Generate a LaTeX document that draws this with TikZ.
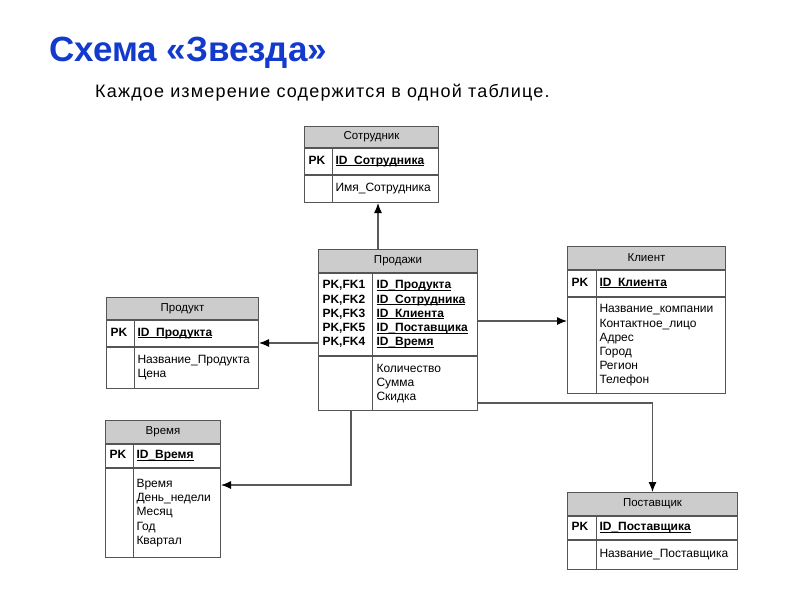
\documentclass[tikz,border=0pt]{standalone}
\usepackage{fontspec}
\setmainfont{Liberation Sans}
\usetikzlibrary{arrows.meta}

\definecolor{titleblue}{RGB}{18,58,204}
\definecolor{hdrgray}{RGB}{204,204,204}
\definecolor{boxline}{RGB}{85,85,85}

\newcommand{\idf}[1]{{\bfseries\setbox0\hbox{#1}\rlap{\rule[-1.8pt]{\wd0}{0.7pt}}\box0}}
\newcommand{\rows}[2]{\begin{tabular}{@{}p{#1}@{}l@{}}#2\end{tabular}}

\begin{document}
\begin{tikzpicture}[
  x=1pt, y=-1pt,
  tbl/.style={draw=boxline, line width=1pt, inner xsep=4pt, inner ysep=0pt,
    anchor=north, align=left, font=\fontsize{12}{14.2}\selectfont},
  hdr/.style={tbl, fill=hdrgray, align=center, anchor=north west,
    font=\fontsize{11.5}{14}\selectfont},
  divider/.style={draw=boxline, line width=1pt},
  link/.style={draw=gray!70!black, line width=1.2pt,
    -{Latex[length=10pt,width=8pt,color=black]}},
  ]
  \useasboundingbox (0,0) rectangle (800,600);

  %% Title
  \node[anchor=base west, inner sep=0pt, text=titleblue,
        font=\fontsize{35}{40}\selectfont\bfseries] (title) at (49,61) {Схема «Звезда»};
  \node[anchor=base west, inner sep=0pt,
        font=\fontsize{18}{20}\selectfont\addfontfeatures{LetterSpace=6.5}] (subtitle) at (95,97)
        {Каждое измерение содержится в одной таблице.};

  % Сотрудник
  \node[hdr, text width=126pt, minimum height=21pt] (sotr-h) at (304,126) {Сотрудник};
  \node[tbl, text width=126pt, minimum height=26pt] (sotr-pk) at (sotr-h.south)
    {\rows{27pt}{\textbf{PK} & \idf{ID\_Сотрудника}}};
  \node[tbl, text width=126pt, minimum height=27pt] (sotr-body) at (sotr-pk.south)
    {\rows{27pt}{& Имя\_Сотрудника}};
  \draw[divider] ([xshift=28pt]sotr-h.south west) -- ([xshift=28pt]sotr-body.south west);

  % Продажи (fact table)
  \node[hdr, text width=151pt, minimum height=23pt] (prod-h) at (318,249) {Продажи};
  \node[tbl, text width=151pt, minimum height=82pt] (prod-pk) at (prod-h.south)
    {\rows{54pt}{\textbf{PK,FK1} & \idf{ID\_Продукта}\\
                 \textbf{PK,FK2} & \idf{ID\_Сотрудника}\\
                 \textbf{PK,FK3} & \idf{ID\_Клиента}\\
                 \textbf{PK,FK5} & \idf{ID\_Поставщика}\\
                 \textbf{PK,FK4} & \idf{ID\_Время}}};
  \node[tbl, text width=151pt, minimum height=54pt] (prod-body) at (prod-pk.south)
    {\rows{54pt}{& Количество\\ & Сумма\\ & Скидка}};
  \draw[divider] ([xshift=54pt]prod-h.south west) -- ([xshift=54pt]prod-body.south west);

  % Продукт
  \node[hdr, text width=144pt, minimum height=22pt] (produkt-h) at (106,297) {Продукт};
  \node[tbl, text width=144pt, minimum height=26pt] (produkt-pk) at (produkt-h.south)
    {\rows{27pt}{\textbf{PK} & \idf{ID\_Продукта}}};
  \node[tbl, text width=144pt, minimum height=41pt] (produkt-body) at (produkt-pk.south)
    {\rows{27pt}{& Название\_Продукта\\ & Цена}};
  \draw[divider] ([xshift=28pt]produkt-h.south west) -- ([xshift=28pt]produkt-body.south west);

  % Клиент
  \node[hdr, text width=150pt, minimum height=23pt] (klient-h) at (567,246) {Клиент};
  \node[tbl, text width=150pt, minimum height=26pt] (klient-pk) at (klient-h.south)
    {\rows{28pt}{\textbf{PK} & \idf{ID\_Клиента}}};
  \node[tbl, text width=150pt, minimum height=96pt] (klient-body) at (klient-pk.south)
    {\rows{28pt}{& Название\_компании\\ & Контактное\_лицо\\ & Адрес\\
                 & Город\\ & Регион\\ & Телефон}};
  \draw[divider] ([xshift=29pt]klient-h.south west) -- ([xshift=29pt]klient-body.south west);

  % Время
  \node[hdr, text width=107pt, minimum height=23pt] (vremya-h) at (105,420) {Время};
  \node[tbl, text width=107pt, minimum height=23pt] (vremya-pk) at (vremya-h.south)
    {\rows{27pt}{\textbf{PK} & \idf{ID\_Время}}};
  \node[tbl, text width=107pt, minimum height=89pt] (vremya-body) at (vremya-pk.south)
    {\rows{27pt}{& Время\\ & День\_недели\\ & Месяц\\ & Год\\ & Квартал}};
  \draw[divider] ([xshift=28pt]vremya-h.south west) -- ([xshift=28pt]vremya-body.south west);

  % Поставщик
  \node[hdr, text width=162pt, minimum height=23pt] (postav-h) at (567,492) {Поставщик};
  \node[tbl, text width=162pt, minimum height=23pt] (postav-pk) at (postav-h.south)
    {\rows{28pt}{\textbf{PK} & \idf{ID\_Поставщика}}};
  \node[tbl, text width=162pt, minimum height=29pt] (postav-body) at (postav-pk.south)
    {\rows{28pt}{& Название\_Поставщика}};
  \draw[divider] ([xshift=29pt]postav-h.south west) -- ([xshift=29pt]postav-body.south west);

  % Links from the fact table
  \draw[link] (prod-h.north -| 378,0) -- (sotr-body.south -| 378,0);
  \draw[link] (prod-pk.west |- 0,343) -- (produkt-pk.east |- 0,343);
  \draw[link] (prod-pk.east |- 0,321) -- (klient-body.west |- 0,321);
  \draw[link] (prod-body.south -| 351,0) |- (vremya-body.east |- 0,485);
  \draw[link] (prod-body.east |- 0,403) -| (postav-h.north);

\end{tikzpicture}
\end{document}
